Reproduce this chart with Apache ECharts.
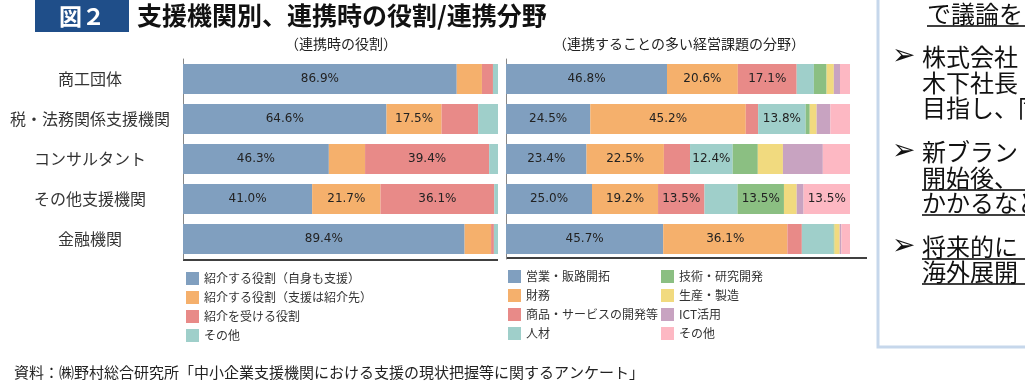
<!DOCTYPE html>
<html><head><meta charset="utf-8">
<script src="https://cdn.jsdelivr.net/npm/echarts@6/dist/echarts.min.js"></script>
<style>html,body{margin:0;padding:0;background:#fff;}#c{width:1025px;height:385px;}</style>
</head><body><div id="c"></div>
<script>
// ---- data ----
const categories = ['商工団体','税・法務関係支援機関','コンサルタント','その他支援機関','金融機関'];
const roleNames = ['紹介する役割（自身も支援）','紹介する役割（支援は紹介先）','紹介を受ける役割','その他'];
const roleSelf    = [86.9, 64.6, 46.3, 41.0, 89.4];
const roleIntro   = [8.0, 17.5, 11.5, 21.7, 8.4];
const roleReceive = [3.5, 11.6, 39.4, 36.1, 0.9];
const roleOther   = [1.6, 6.3, 2.8, 1.2, 1.3];
const fieldNames = ['営業・販路開拓','財務','商品・サービスの開発等','人材','技術・研究開発','生産・製造','ICT活用','その他'];
const fieldSales   = [46.8, 24.5, 23.4, 25.0, 45.7];
const fieldFinance = [20.6, 45.2, 22.5, 19.2, 36.1];
const fieldProduct = [17.1, 3.6, 7.6, 13.5, 4.2];
const fieldHR      = [5.0, 13.8, 12.4, 9.6, 9.2];
const fieldTech    = [3.7, 1.2, 7.3, 13.5, 0.3];
const fieldMfg     = [2.1, 2.0, 7.3, 3.7, 1.5];
const fieldICT     = [1.8, 4.0, 11.6, 2.0, 0.5];
const fieldOther   = [2.9, 5.7, 7.9, 13.5, 2.5];

// ---- styles ----
const roleColors = ['#809fbf','#f5b06c','#e88a88','#9fcfca'];
const fieldColors = ['#809fbf','#f5b06c','#e88a88','#9fcfca','#8bbf82','#f1da7f','#c8a3c1','#fdb8c3'];
const JP = "'Noto Sans CJK JP','Noto Sans',sans-serif";
const LBL = "'DejaVu Sans',Verdana,sans-serif";

const roleData = [roleSelf, roleIntro, roleReceive, roleOther];
const fieldData = [fieldSales, fieldFinance, fieldProduct, fieldHR, fieldTech, fieldMfg, fieldICT, fieldOther];
const FP = '分野:';

function lbl(p){ return p.value >= 12 ? p.value.toFixed(1) + '%' : ''; }

const series = [];
roleData.forEach((d, i) => series.push({
  name: roleNames[i], type: 'bar', stack: 'role', xAxisIndex: 0, yAxisIndex: 0,
  data: d, barWidth: 30, itemStyle: {color: roleColors[i]},
  label: {show: true, position: 'inside', formatter: lbl, color: '#222', fontSize: 12, fontFamily: LBL},
  emphasis: {disabled: true}
}));
fieldData.forEach((d, i) => series.push({
  name: FP + fieldNames[i], type: 'bar', stack: 'field', xAxisIndex: 1, yAxisIndex: 1,
  data: d, barWidth: 30, itemStyle: {color: fieldColors[i]},
  label: {show: true, position: 'inside', formatter: lbl, color: '#222', fontSize: 12, fontFamily: LBL},
  emphasis: {disabled: true}
}));

const legendCommon = {
  orient: 'vertical', icon: 'rect', itemWidth: 13, itemHeight: 13, itemGap: 6, padding: 0,
  selectedMode: false, textStyle: {fontSize: 12, color: '#333', fontFamily: JP},
  formatter: n => n.startsWith(FP) ? n.slice(FP.length) : n
};

const underline = (x1, y, x2) => ({type: 'line', shape: {x1: x1, y1: y, x2: x2, y2: y}, style: {stroke: '#000', lineWidth: 1.5}});
const ptext = (x, y, t, sz) => ({type: 'text', x: x, y: y, style: {text: t, font: (sz || 24) + 'px ' + JP, fill: '#111', textVerticalAlign: 'middle'}});
const arrow = (y) => ({type: 'text', x: 892, y: y, style: {text: '➢', font: "28px 'DejaVu Sans',sans-serif", fill: '#111', textVerticalAlign: 'middle'}});

const chart = echarts.init(document.getElementById('c'), null, {renderer: 'canvas'});
chart.setOption({
  animation: false,
  backgroundColor: '#fff',
  grid: [
    {left: 183, top: 59, width: 315, height: 200},
    {left: 506, top: 59, width: 344, height: 200}
  ],
  xAxis: [
    {type: 'value', gridIndex: 0, min: 0, max: 100, show: false},
    {type: 'value', gridIndex: 1, min: 0, max: 100, show: false}
  ],
  yAxis: [
    {type: 'category', gridIndex: 0, inverse: true, data: categories,
     axisLine: {show: true, lineStyle: {color: '#888', width: 1}}, axisTick: {show: false},
     axisLabel: {margin: 93, align: 'center', fontSize: 16, color: '#333', fontFamily: JP}},
    {type: 'category', gridIndex: 1, inverse: true, data: categories,
     axisLine: {show: true, lineStyle: {color: '#888', width: 1}}, axisTick: {show: false},
     axisLabel: {show: false}}
  ],
  legend: [
    Object.assign({}, legendCommon, {left: 186, top: 272, data: roleNames}),
    Object.assign({}, legendCommon, {left: 508, top: 270, data: fieldNames.slice(0, 4).map(n => FP + n)}),
    Object.assign({}, legendCommon, {left: 661, top: 270, data: fieldNames.slice(4).map(n => FP + n)})
  ],
  series: series,
  graphic: [
    {type: 'rect', shape: {x: 35, y: 0, width: 94, height: 32}, style: {fill: '#1f4e89'}},
    {type: 'text', x: 82, y: 16, style: {text: '図２', font: "bold 23px " + JP, fill: '#fff', textAlign: 'center', textVerticalAlign: 'middle'}},
    {type: 'text', x: 137, y: 15, style: {text: '支援機関別、連携時の役割/連携分野', font: "bold 25px " + JP, fill: '#111', textVerticalAlign: 'middle'}},
    {type: 'text', x: 341, y: 44, style: {text: '（連携時の役割）', font: "14px " + JP, fill: '#222', textAlign: 'center', textVerticalAlign: 'middle'}},
    {type: 'text', x: 679, y: 44, style: {text: '（連携することの多い経営課題の分野）', font: "14px " + JP, fill: '#222', textAlign: 'center', textVerticalAlign: 'middle'}},
    {type: 'line', shape: {x1: 183, y1: 260, x2: 498, y2: 260}, style: {stroke: '#000', lineWidth: 1.5}},
    {type: 'line', shape: {x1: 506, y1: 258, x2: 867, y2: 258}, style: {stroke: '#000', lineWidth: 1.5}},
    {type: 'text', x: 14, y: 372, style: {text: '資料：㈱野村総合研究所「中小企業支援機関における支援の現状把握等に関するアンケート」', font: "15px " + JP, fill: '#222', textVerticalAlign: 'middle'}},
    // right-hand panel
    {type: 'polyline', shape: {points: [[878, -5], [878, 347], [1030, 347]]}, style: {stroke: '#c6d7eb', lineWidth: 3, fill: null}},
    ptext(927, 14, 'で議論を'), underline(927, 26, 1025),
    arrow(57), ptext(922, 57, '株式会社'),
    ptext(922, 83, '木下社長'),
    ptext(922, 108, '目指し、同'),
    arrow(152), ptext(922, 152, '新ブランド'),
    ptext(922, 178, '開始後、'), underline(922, 190, 1025),
    ptext(922, 203, 'かかるなど'), underline(922, 215, 1025),
    arrow(247), ptext(922, 247, '将来的に'), underline(922, 259, 1025),
    ptext(922, 272, '海外展開'), underline(922, 284, 1025)
  ]
});
</script>
</body></html>
